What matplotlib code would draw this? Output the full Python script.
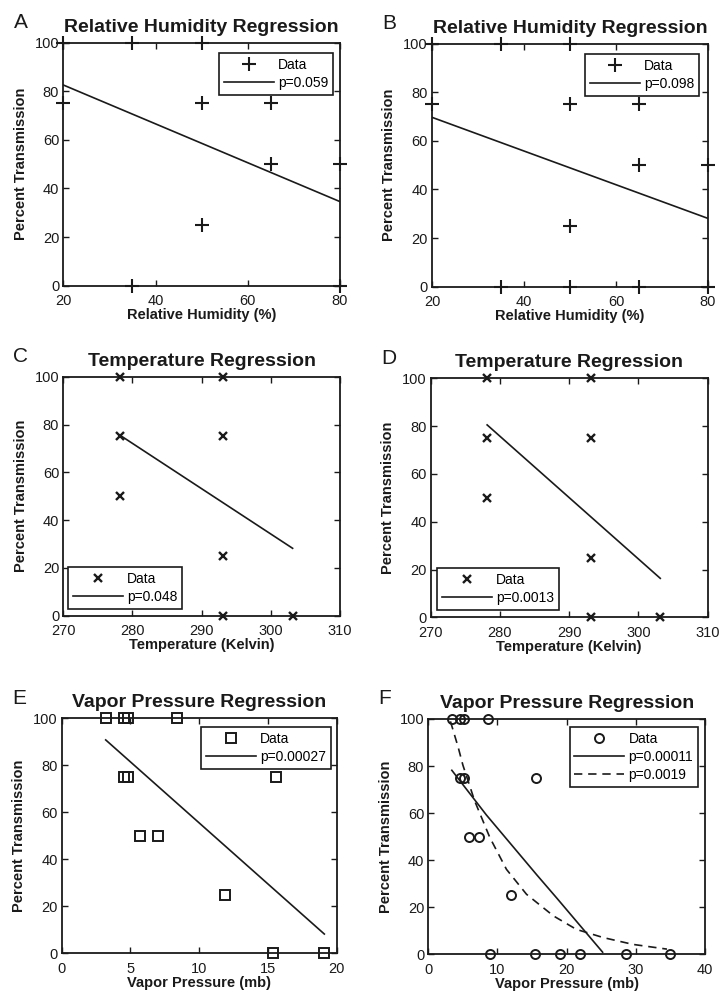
import matplotlib
matplotlib.use('Agg')
import matplotlib.pyplot as plt

plt.rcParams['font.family'] = ['Liberation Sans', 'DejaVu Sans']

# relative humidity panels
rh_a_x = [20, 20, 35, 35, 50, 50, 50, 65, 65, 80, 80]
rh_a_y = [100, 75, 100, 0, 100, 75, 25, 75, 50, 50, 0]
rh_a_fit_x = [20, 80]
rh_a_fit_y = [82.6, 34.6]

rh_b_x = [20, 20, 35, 35, 50, 50, 50, 50, 65, 65, 65, 80, 80]
rh_b_y = [100, 75, 100, 0, 100, 75, 25, 0, 75, 50, 0, 50, 0]
rh_b_fit_x = [20, 80]
rh_b_fit_y = [69.7, 28.1]

# temperature panels
temp_x = [278.15, 278.15, 278.15, 293.15, 293.15, 293.15, 293.15, 303.15]
temp_y = [100, 75, 50, 100, 75, 25, 0, 0]
temp_c_fit_x = [278.15, 303.15]
temp_c_fit_y = [75.6, 28.2]
temp_d_fit_x = [278.15, 303.15]
temp_d_fit_y = [80.5, 16.3]

# vapor pressure panels
vp_e_x = [3.2, 4.5, 4.8, 8.4, 4.5, 4.8, 5.7, 7.0, 11.9, 15.6, 15.4, 19.1]
vp_e_y = [100, 100, 100, 100, 75, 75, 50, 50, 25, 75, 0, 0]
vp_e_fit_x = [3.2, 19.1]
vp_e_fit_y = [90.8, 8.2]

vp_f_x = [3.4, 4.6, 5.1, 8.7, 4.6, 5.1, 5.9, 7.3, 12.0, 15.6,
          8.9, 15.4, 19.1, 22.0, 28.6, 35.0]
vp_f_y = [100, 100, 100, 100, 75, 75, 50, 50, 25, 75, 0, 0, 0, 0, 0, 0]
vp_f_lin_x = [3.4, 8.4, 15.7, 18.6, 25.2]
vp_f_lin_y = [78.2, 59.2, 33.7, 23.8, 0.9]
vp_f_exp_x = [3.2, 4.3, 5.0, 6.7, 8.9, 11.3, 14.2, 18.1, 21.4, 25.3, 29.6, 34.5]
vp_f_exp_y = [99.0, 88.2, 80.4, 65.2, 49.6, 36.1, 25.5, 16.3, 10.6, 7.1, 4.2, 2.2]

W, H = 720, 996
INK = '#1a1a1a'
fig = plt.figure(figsize=(W / 100, H / 100), dpi=100, facecolor='white')


def make_axes(x0, y0, x1, y1):
    # pixel box (top-left origin) -> figure fraction
    return fig.add_axes([x0 / W, (H - y1) / H, (x1 - x0) / W, (y1 - y0) / H])


def style_axes(ax, letter, title, xlabel, xlim, xticks):
    ax.set_xlim(*xlim)
    ax.set_ylim(0, 100)
    ax.set_xticks(xticks)
    ax.set_yticks(range(0, 101, 20))
    ax.tick_params(direction='in', top=True, right=True, length=4, width=1,
                   labelsize=10.5, colors=INK)
    ax.tick_params(axis='x', pad=6)
    ax.tick_params(axis='y', pad=3)
    for s in ax.spines.values():
        s.set_linewidth(1.3)
        s.set_color(INK)
    ax.set_title(title, fontsize=14, fontweight='bold', pad=8, color=INK)
    ax.set_xlabel(xlabel, fontsize=10.5, fontweight='bold', labelpad=0,
                  color=INK)
    ax.set_ylabel('Percent Transmission', fontsize=10.5, fontweight='bold',
                  labelpad=5, color=INK)
    ax.text(-0.18, 1.045, letter, transform=ax.transAxes, fontsize=15,
            color=INK, va='bottom', ha='left')


def add_legend(ax, loc, anchor):
    leg = ax.legend(loc=loc, bbox_to_anchor=anchor, borderaxespad=0,
                    fancybox=False, framealpha=1, edgecolor=INK,
                    fontsize=10, handlelength=3.6, handletextpad=0.3,
                    borderpad=0.35, labelspacing=0.3)
    leg.get_frame().set_linewidth(1.2)


# A
ax = make_axes(63.3, 42.7, 340, 285.7)
ax.plot(rh_a_x, rh_a_y, '+', color=INK, ms=10, mew=1.5, clip_on=False,
        label='Data')
ax.plot(rh_a_fit_x, rh_a_fit_y, '-', color=INK, lw=1.2, label='p=0.059')
style_axes(ax, 'A', 'Relative Humidity Regression', 'Relative Humidity (%)',
           (20, 80), [20, 40, 60, 80])
add_legend(ax, 'upper right', (0.975, 0.958))

# B
ax = make_axes(432, 43.7, 708, 286.7)
ax.plot(rh_b_x, rh_b_y, '+', color=INK, ms=10, mew=1.5, clip_on=False,
        label='Data')
ax.plot(rh_b_fit_x, rh_b_fit_y, '-', color=INK, lw=1.2, label='p=0.098')
style_axes(ax, 'B', 'Relative Humidity Regression', 'Relative Humidity (%)',
           (20, 80), [20, 40, 60, 80])
add_legend(ax, 'upper right', (0.967, 0.958))

# C
ax = make_axes(63.3, 376.7, 340, 615.7)
ax.plot(temp_x, temp_y, 'x', color=INK, ms=5.5, mew=1.7, clip_on=False,
        label='Data')
ax.plot(temp_c_fit_x, temp_c_fit_y, '-', color=INK, lw=1.2, label='p=0.048')
style_axes(ax, 'C', 'Temperature Regression', 'Temperature (Kelvin)',
           (270, 310), [270, 280, 290, 300, 310])
add_legend(ax, 'lower left', (0.017, 0.028))

# D
ax = make_axes(430.7, 378.3, 707.7, 617.3)
ax.plot(temp_x, temp_y, 'x', color=INK, ms=5.5, mew=1.7, clip_on=False,
        label='Data')
ax.plot(temp_d_fit_x, temp_d_fit_y, '-', color=INK, lw=1.2, label='p=0.0013')
style_axes(ax, 'D', 'Temperature Regression', 'Temperature (Kelvin)',
           (270, 310), [270, 280, 290, 300, 310])
add_legend(ax, 'lower left', (0.023, 0.031))

# E
ax = make_axes(61.7, 718.3, 336.7, 953.3)
ax.plot(vp_e_x, vp_e_y, 's', color=INK, mfc='none', ms=6.5, mew=1.4,
        clip_on=False, label='Data')
ax.plot(vp_e_fit_x, vp_e_fit_y, '-', color=INK, lw=1.2, label='p=0.00027')
style_axes(ax, 'E', 'Vapor Pressure Regression', 'Vapor Pressure (mb)',
           (0, 20), [0, 5, 10, 15, 20])
add_legend(ax, 'upper right', (0.979, 0.963))

# F
ax = make_axes(428.3, 719, 705, 954.3)
ax.plot(vp_f_x, vp_f_y, 'o', color=INK, mfc='none', ms=6.5, mew=1.4,
        clip_on=False, label='Data')
ax.plot(vp_f_lin_x, vp_f_lin_y, '-', color=INK, lw=1.2, label='p=0.00011')
ax.plot(vp_f_exp_x, vp_f_exp_y, color=INK, lw=1.2,
        linestyle=(0, (5, 3.5)), label='p=0.0019')
style_axes(ax, 'F', 'Vapor Pressure Regression', 'Vapor Pressure (mb)',
           (0, 40), [0, 10, 20, 30, 40])
add_legend(ax, 'upper right', (0.975, 0.966))

fig.savefig('out.png', dpi=100, facecolor='white')
